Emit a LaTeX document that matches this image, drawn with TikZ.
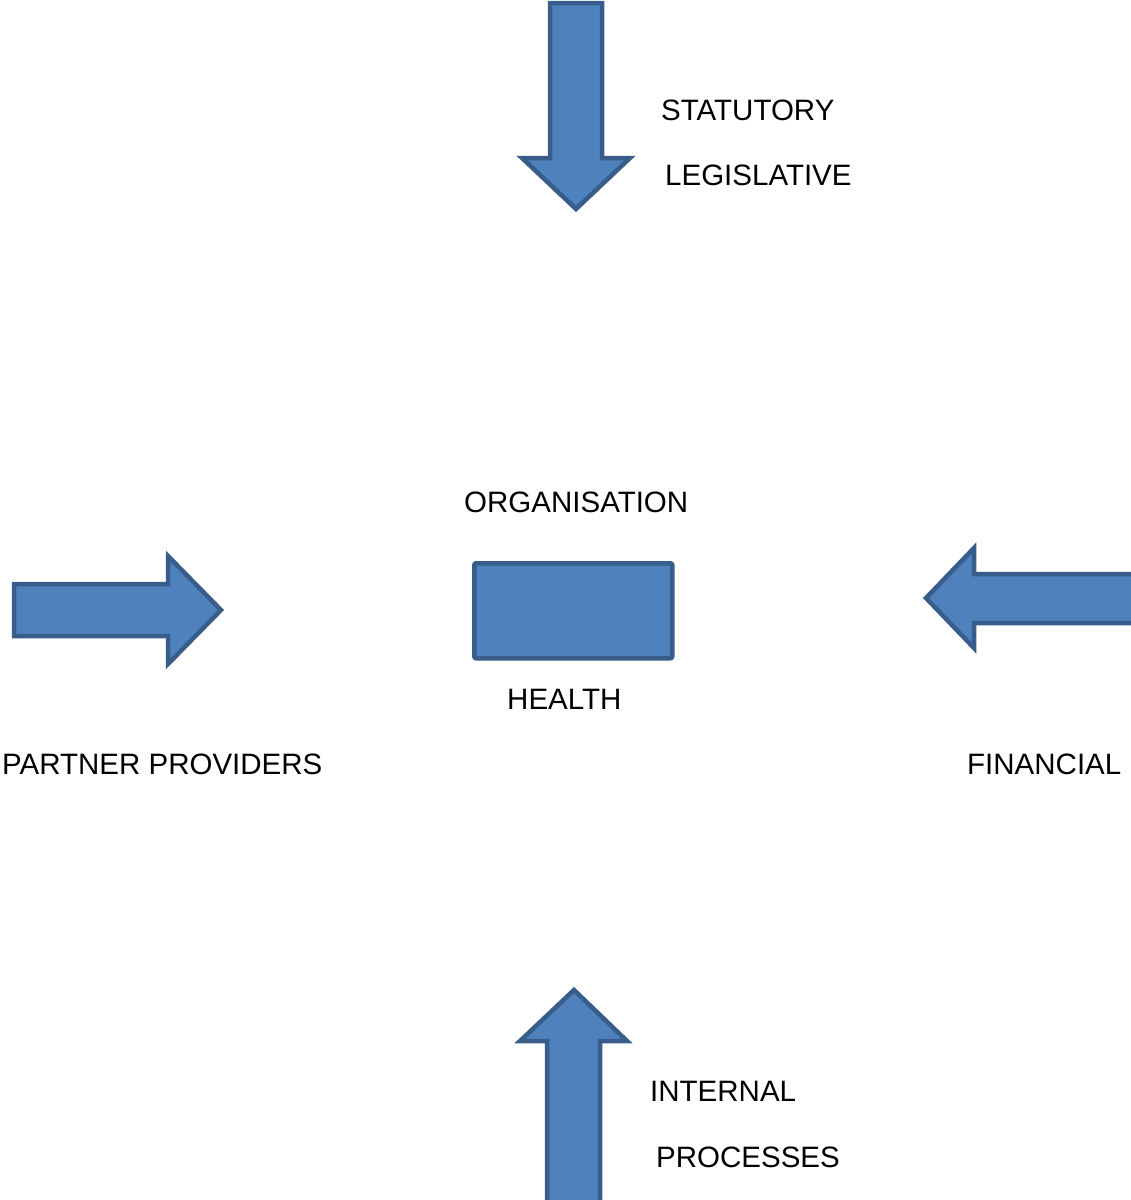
\documentclass[tikz,border=0pt]{standalone}
\usepackage{fontspec}
\setmainfont{Liberation Sans}
\definecolor{blockfill}{HTML}{4F81BD}
\definecolor{blockline}{HTML}{385D8A}
\begin{document}
\begin{tikzpicture}[x=1pt,y=-1pt,
  block/.style={fill=blockfill,draw=blockline,line width=4.5pt,line join=miter},
  lbl/.style={anchor=base west,inner sep=0pt,font=\fontsize{29.5}{35}\selectfont}]
\useasboundingbox (0,0) rectangle (1131,1200);
% top arrow (down)
\draw[block] (550,3) -- (602,3) -- (602,158) -- (630,158) -- (576,209) -- (522,158) -- (550,158) -- cycle;
% left arrow (right)
\draw[block] (14,584) -- (168,584) -- (168,556) -- (221,610) -- (168,664) -- (168,636) -- (14,636) -- cycle;
% right arrow (left)
\draw[block] (1135,574) -- (974,574) -- (974,548) -- (926,598) -- (974,648) -- (974,623) -- (1135,623);
% bottom arrow (up)
\draw[block] (547,1205) -- (547,1041) -- (520,1041) -- (574,990) -- (627,1041) -- (600,1041) -- (600,1205);
% centre box
\node[block,rounded corners=2pt,minimum width=198pt,minimum height=95pt,inner sep=0pt,anchor=north west] (box) at (472,561) {};
\node[lbl] (stat) at (661,120.5) {STATUTORY};
\node[lbl] (legis) at (665,185.5) {LEGISLATIVE};
\node[lbl] (org) at (464,512.5) {ORGANISATION};
\node[lbl] (health) at (507,709.5) {HEALTH};
\node[lbl] (partner) at (2,774.5) {PARTNER PROVIDERS};
\node[lbl] (fin) at (967,774.5) {FINANCIAL};
\node[lbl] (internal) at (650,1101.5) {INTERNAL};
\node[lbl] (proc) at (656,1167.5) {PROCESSES};
\end{tikzpicture}
\end{document}
